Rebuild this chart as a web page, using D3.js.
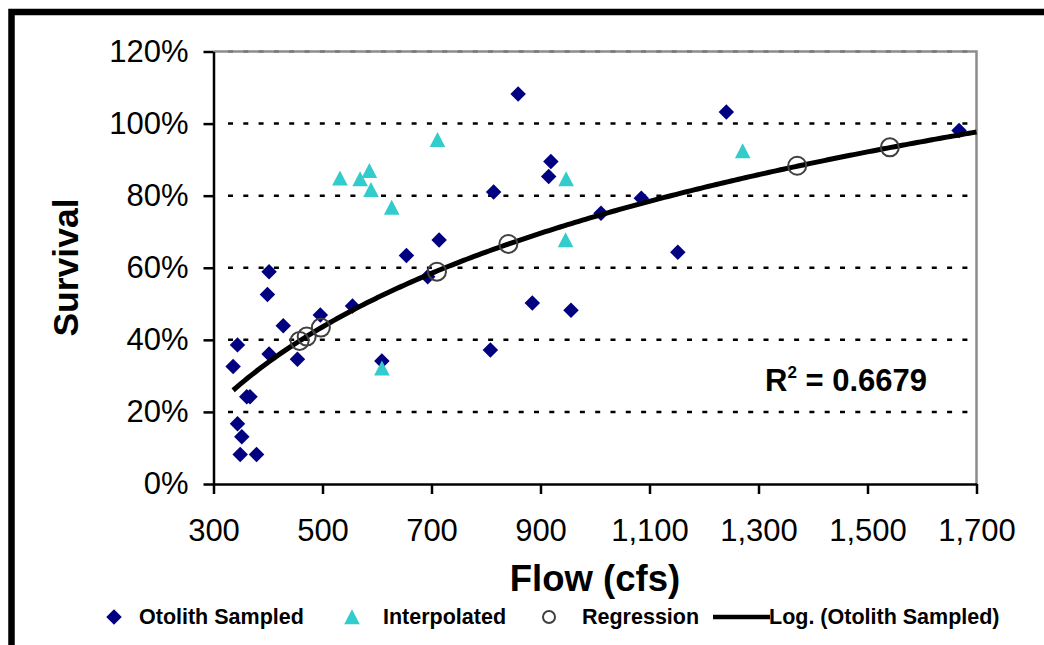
<!DOCTYPE html>
<html>
<head>
<meta charset="utf-8">
<script src="https://cdn.jsdelivr.net/npm/d3@7"></script>
<style>
  html, body { margin: 0; padding: 0; background: #ffffff; }
  svg { display: block; }
  text { font-family: "Liberation Sans", Arial, sans-serif; }
</style>
</head>
<body>
<svg id="chart" width="1044" height="645"></svg>
<script>
// Survival vs. flow, with sampled, interpolated and regression points
const otolithFlow = [336, 344, 402, 399, 428, 402, 454, 496, 555, 609, 654, 714, 693, 808,
  361, 367, 344, 352, 349, 379, 859, 814, 919, 915, 1241, 1085, 1011, 1152, 885, 956, 1668];
const otolithSurvival = [0.326, 0.386, 0.589, 0.526, 0.439, 0.361, 0.346, 0.469, 0.494, 0.341, 0.634, 0.677, 0.575, 0.372,
  0.242, 0.242, 0.167, 0.131, 0.082, 0.082, 1.082, 0.810, 0.895, 0.853, 1.032, 0.793, 0.751, 0.643, 0.502, 0.482, 0.981];

const interpFlow = [532, 569, 586, 589, 627, 711, 947, 1271, 946, 609];
const interpSurvival = [0.848, 0.846, 0.869, 0.816, 0.767, 0.955, 0.846, 0.924, 0.677, 0.321];

const regressionFlow = [458, 471, 497, 710, 841, 1371, 1541];
const regressionSurvival = [0.397, 0.409, 0.434, 0.589, 0.666, 0.883, 0.934];

// Logarithmic trendline fitted to the otolith-sampled points: y = a*ln(x) + b
const trendSlope = 0.442;
const trendIntercept = -2.311;
const trendFlowRange = [336, 1700];
const rSquaredLabel = "0.6679";

const xTicks = [300, 500, 700, 900, 1100, 1300, 1500, 1700];
const yTicks = [0, 0.2, 0.4, 0.6, 0.8, 1.0, 1.2];

const legendLabels = ["Otolith Sampled", "Interpolated", "Regression", "Log. (Otolith Sampled)"];

const svg = d3.select("#chart");
const x = d3.scaleLinear().domain([300, 1700]).range([213.5, 976.5]);
const y = d3.scaleLinear().domain([0, 1.2]).range([484, 51.5]);

// outer frame
svg.append("rect").attr("x", 11.5).attr("y", 12).attr("width", 1100).attr("height", 700)
  .attr("fill", "none").attr("stroke", "#000").attr("stroke-width", 6.5);

// horizontal gridlines
svg.append("g").selectAll("line").data(yTicks.filter(d => d > 0 && d < 1.2)).join("line")
  .attr("x1", 228).attr("x2", 972)
  .attr("y1", d => y(d)).attr("y2", d => y(d))
  .attr("stroke", "#000").attr("stroke-width", 2.5).attr("stroke-dasharray", "5,10.3");

// plot border (top and right)
svg.append("path")
  .attr("d", `M${x(300)},${y(1.2)}H${x(1700)}V${y(0)}`)
  .attr("fill", "none").attr("stroke", "#8c8c8c").attr("stroke-width", 2.5);
svg.append("line").attr("x1", 228).attr("x2", 972).attr("y1", y(1.2)).attr("y2", y(1.2))
  .attr("stroke", "#7a7a7a").attr("stroke-width", 2.5).attr("stroke-dasharray", "5,10.3");

// axes
const xAxis = d3.axisBottom(x).tickValues(xTicks).tickFormat(d3.format(","))
  .tickSize(10).tickSizeOuter(0).tickPadding(25);
const yAxis = d3.axisLeft(y).tickValues(yTicks).tickFormat(d3.format(".0%"))
  .tickSize(10).tickSizeOuter(0).tickPadding(15);

const gx = svg.append("g").attr("transform", `translate(0,${y(0)})`).call(xAxis);
const gy = svg.append("g").attr("transform", `translate(${x(300)},0)`).call(yAxis);
[gx, gy].forEach(g => {
  g.selectAll("path, line").attr("stroke", "#000").attr("stroke-width", 2.5);
  g.selectAll("text").attr("font-size", 31).attr("fill", "#000")
    .attr("font-family", "'Liberation Sans', Arial, sans-serif");
});

// markers
const diamond = d3.symbol().type(d3.symbolSquare).size(120)();
svg.append("g").selectAll("path").data(d3.zip(otolithFlow, otolithSurvival)).join("path")
  .attr("d", diamond)
  .attr("transform", d => `translate(${x(d[0])},${y(d[1])}) rotate(45)`)
  .attr("fill", "#000080");

const tri = "M0,-7.8L7.8,7.2L-7.8,7.2Z";
svg.append("g").selectAll("path").data(d3.zip(interpFlow, interpSurvival)).join("path")
  .attr("d", tri)
  .attr("transform", d => `translate(${x(d[0])},${y(d[1])})`)
  .attr("fill", "#33CCCC");

// trendline
const trendPts = d3.range(0, 201).map(i => {
  const f = trendFlowRange[0] + (trendFlowRange[1] - trendFlowRange[0]) * i / 200;
  return [f, trendSlope * Math.log(f) + trendIntercept];
});
svg.append("path").datum(trendPts)
  .attr("d", d3.line().x(d => x(d[0])).y(d => y(d[1])))
  .attr("fill", "none").attr("stroke", "#000").attr("stroke-width", 5);

svg.append("g").selectAll("circle").data(d3.zip(regressionFlow, regressionSurvival)).join("circle")
  .attr("cx", d => x(d[0])).attr("cy", d => y(d[1])).attr("r", 9)
  .attr("fill", "none").attr("stroke", "#404040").attr("stroke-width", 2);

// R-squared label
const r2 = svg.append("text").attr("x", 765).attr("y", 391)
  .attr("font-size", 31).attr("font-weight", "bold").attr("fill", "#000")
  .style("white-space", "pre");
r2.append("tspan").text("R");
r2.append("tspan").attr("font-size", 17).attr("dy", -13).text("2");
r2.append("tspan").attr("dy", 13).text(" = " + rSquaredLabel);

// axis titles
svg.append("text").attr("x", 595).attr("y", 591).attr("text-anchor", "middle")
  .attr("font-size", 36.5).attr("font-weight", "bold").text("Flow (cfs)");
svg.append("text").attr("transform", "translate(78,267.5) rotate(-90)").attr("text-anchor", "middle")
  .attr("font-size", 35.5).attr("font-weight", "bold").text("Survival");

// legend
const legY = 617;
const leg = svg.append("g");
leg.append("path").attr("d", diamond).attr("transform", `translate(114,${legY}) rotate(45)`).attr("fill", "#000080");
leg.append("path").attr("d", tri).attr("transform", `translate(352,${legY})`).attr("fill", "#33CCCC");
leg.append("circle").attr("cx", 549).attr("cy", legY).attr("r", 6)
  .attr("fill", "none").attr("stroke", "#404040").attr("stroke-width", 2);
leg.append("line").attr("x1", 713).attr("x2", 770).attr("y1", legY).attr("y2", legY)
  .attr("stroke", "#000").attr("stroke-width", 4.5);
const legX = [139, 383, 582, 769];
leg.selectAll("text").data(legendLabels).join("text")
  .attr("x", (d, i) => legX[i]).attr("y", 624)
  .attr("font-size", 21.5).attr("font-weight", "bold").attr("fill", "#000")
  .text(d => d);
</script>
</body>
</html>
